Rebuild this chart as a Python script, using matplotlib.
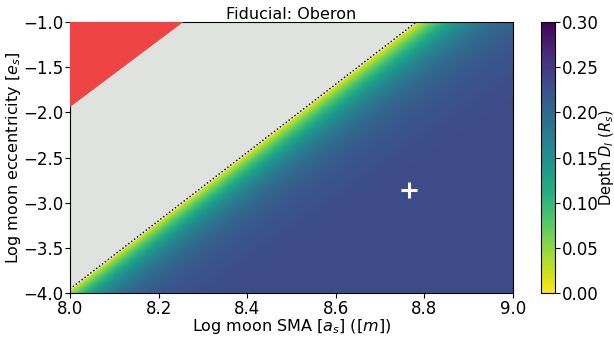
import numpy as np
import matplotlib
matplotlib.use("Agg")
import matplotlib.pyplot as plt

# ---- data ----
x_range = [8.0, 9.0]            # log moon SMA
y_range = [-4.0, -1.0]          # log moon eccentricity
# boundary of the valid (coloured) region: points (x, y)
boundary_x = [8.0, 8.782]
boundary_y = [-3.95, -1.0]
# red (excluded) triangle edge
red_x = [8.0, 8.256]
red_y = [-1.94, -1.0]
# depth field parameters
depth_max = 0.232
depth_scale_bottom = 0.075
depth_scale_top = 0.10
# fiducial marker
marker_x = [8.766]
marker_y = [-2.86]
cbar_ticks = [0.00, 0.05, 0.10, 0.15, 0.20, 0.25, 0.30]

plt.rcParams['font.family'] = ['DejaVu Sans']
plt.rcParams['font.size'] = 12

fig = plt.figure(figsize=(6.14, 3.38), dpi=100)
ax = fig.add_axes([0.114, 0.1317, 0.7215, 0.8033])
cax = fig.add_axes([0.881, 0.1317, 0.023, 0.8033])

nx, ny = 600, 400
xs = np.linspace(x_range[0], x_range[1], nx)
ys = np.linspace(y_range[0], y_range[1], ny)
X, Y = np.meshgrid(xs, ys)
slope = (boundary_x[1] - boundary_x[0]) / (boundary_y[1] - boundary_y[0])
xb = boundary_x[0] + (Y - boundary_y[0]) * slope
dx = X - xb
frac = (Y - y_range[0]) / (y_range[1] - y_range[0])
L = depth_scale_bottom + (depth_scale_top - depth_scale_bottom) * frac
D = depth_max * (1 - np.exp(-np.clip(dx, 0, None) / L))
D = np.ma.masked_where(dx < 0, D)

cmap = plt.get_cmap('viridis_r').copy()
ax.set_facecolor('#e0e2e0')
im = ax.imshow(D, origin='lower', extent=[x_range[0], x_range[1], y_range[0], y_range[1]],
               aspect='auto', cmap=cmap, vmin=0, vmax=0.3, interpolation='bilinear')

# grey region
yy = np.array(y_range)
xbl = boundary_x[0] + (yy - boundary_y[0]) * slope
ax.fill_betweenx(yy, x_range[0], xbl, color='#e0e2e0', zorder=2)
ax.plot(xbl, yy, color='black', ls=':', lw=1.0, zorder=3)
# red region
ax.fill([red_x[0], red_x[1], x_range[0]], [red_y[0], red_y[1], y_range[1]],
        color='#ee4444', lw=0, zorder=3)

ax.plot(marker_x, marker_y, marker='+', color='white', ms=12, mew=2.2, ls='none', zorder=4)

ax.set_xlim(x_range)
ax.set_ylim(y_range)
ax.set_xticks([8.0, 8.2, 8.4, 8.6, 8.8, 9.0])
ax.set_yticks([-4.0, -3.5, -3.0, -2.5, -2.0, -1.5, -1.0])
ax.tick_params(labelsize=12, pad=1.5)
ax.set_xlabel(r'Log moon SMA [$a_s$] ($[m]$)', fontsize=11.5, labelpad=-1)
ax.set_ylabel(r'Log moon eccentricity [$e_s$]', fontsize=11.5, labelpad=0)
ax.set_title('Fiducial: Oberon', fontsize=11.5, pad=2)

cb = fig.colorbar(im, cax=cax, ticks=cbar_ticks)
cb.ax.set_yticklabels([f'{t:.2f}' for t in cbar_ticks])
cb.ax.tick_params(labelsize=12, pad=1.5)
cb.set_label(r'Depth $D_I$ ($R_s$)', fontsize=10.5)
cb.ax.yaxis.set_label_coords(4.0, 0.5)

fig.savefig('out.png', dpi=100)
